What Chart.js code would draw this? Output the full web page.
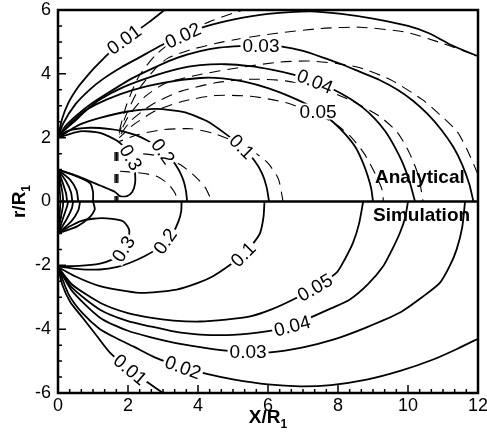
<!DOCTYPE html>
<html>
<head>
<meta charset="utf-8">
<script src="https://cdn.jsdelivr.net/npm/chart.js@4.4.0/dist/chart.umd.min.js"></script>
<style>
  html, body { margin: 0; padding: 0; background: #fff; }
  canvas { display: block; }
</style>
</head>
<body>
<canvas id="chart" width="487" height="437"></canvas>
<script>
// axis ticks
const xTicks = [0, 2, 4, 6, 8, 10, 12];
const yTicks = [-6, -4, -2, 0, 2, 4, 6];

// upper half, solid contours [x, r]
const up001 = [[0,2],[0.12,2.6],[0.3,3.1],[0.55,3.55],[0.77,3.85],[1.05,4.2],[1.3,4.48],[1.6,4.8],[1.9,5.07],[2.3,5.38],[2.6,5.62],[3.0,5.96],[3.05,6]];
const up002 = [[0,2],[0.15,2.45],[0.5,3.05],[0.9,3.5],[1.3,3.85],[1.8,4.2],[2.3,4.5],[3.0,4.92],[3.57,5.2],[4.2,5.48],[5.0,5.7],[6.0,5.88],[7.2,5.96],[8.1,5.88],[9.0,5.73],[10.0,5.5],[10.6,5.27],[11.2,4.92],[12,4.55]];
const up003 = [[0,2],[0.2,2.35],[0.53,2.7],[1.0,3.1],[1.5,3.45],[2.1,3.85],[2.8,4.22],[3.4,4.5],[4.06,4.71],[4.6,4.82],[5.2,4.87],[5.8,4.88],[6.4,4.85],[7.0,4.72],[7.6,4.5],[8.1,4.3],[8.63,4.06],[9.2,3.8],[9.7,3.5],[10.15,3.15],[10.55,2.75],[10.95,2.25],[11.3,1.7],[11.55,1.15],[11.75,0.55],[11.87,0]];
const up004 = [[0,2],[0.2,2.25],[0.43,2.47],[0.8,2.85],[1.2,3.2],[1.9,3.6],[2.63,3.9],[3.4,4.15],[4.06,4.27],[4.8,4.3],[5.49,4.24],[6.1,4.13],[6.7,3.98],[7.34,3.76],[7.87,3.51],[8.3,3.25],[8.7,2.95],[9.05,2.6],[9.35,2.2],[9.6,1.75],[9.85,1.2],[10.05,0.6],[10.2,0]];
const up005 = [[0,2],[0.25,2.33],[0.5,2.6],[0.82,2.88],[1.4,3.2],[2.15,3.5],[3.0,3.72],[4.06,3.87],[4.7,3.86],[5.29,3.76],[6.0,3.55],[6.6,3.3],[7.1,3.05],[7.5,2.8],[7.85,2.5],[8.2,2.12],[8.5,1.7],[8.7,1.25],[8.85,0.8],[8.95,0.4],[9.0,0]];
const up01 = [[0,2],[0.25,2.17],[0.6,2.4],[1.2,2.62],[2.0,2.82],[2.82,2.9],[3.6,2.8],[4.25,2.52],[4.75,2.15],[5.25,1.72],[5.6,1.3],[5.83,0.88],[5.96,0.45],[6.03,0]];
const up02 = [[0,2],[0.3,2.22],[0.91,2.31],[1.5,2.27],[1.86,2.2],[2.25,2.07],[2.54,1.92],[2.8,1.75],[3.0,1.57],[3.2,1.38],[3.36,1.15],[3.5,0.88],[3.6,0.6],[3.66,0.3],[3.69,0]];
const up03 = [[0,2],[0.63,2.2],[1.2,2.15],[1.69,1.9],[1.95,1.62],[2.08,1.38],[2.15,1.15],[2.2,0.9],[2.2,0.55],[2.12,0.3],[1.97,0.17],[1.77,0.17],[1.63,0.3],[1.2,0.5],[0.6,0.78],[0,1]];
const up04 = [[0,1],[0.5,0.8],[0.91,0.58],[1.0,0.3],[1.0,0]];
const up05 = [[0,1],[0.35,0.68],[0.53,0.35],[0.58,0]];
const up06 = [[0,1],[0.22,0.65],[0.37,0.3],[0.41,0]];
const up07 = [[0,1],[0.13,0.6],[0.23,0.25],[0.26,0]];
const up08 = [[0,1],[0.07,0.6],[0.13,0.25],[0.15,0]];
const up09 = [[0,1],[0.04,0.5],[0.07,0]];

// upper half, dashed contours
const dash001 = [[1.75,2.2],[1.95,3.0],[2.3,3.9],[2.8,4.6],[3.5,5.2],[4.3,5.62],[5.0,5.9],[5.3,6.0]];
const dash002 = [[1.75,2.15],[1.98,2.8],[2.3,3.5],[2.77,4.15],[3.15,4.5],[3.77,4.75],[4.5,4.95],[5.3,5.12],[6.25,5.27],[7.5,5.42],[8.63,5.46],[9.96,5.3],[11.0,4.95],[11.87,4.6],[12,4.53]];
const dash003 = [[1.75,2.1],[2.03,2.7],[2.5,3.3],[3.1,3.72],[4.06,3.98],[5.2,4.2],[6.34,4.37],[7.2,4.4],[8.0,4.32],[8.63,4.19],[9.49,3.82],[10.4,3.2],[10.9,2.73],[11.4,2.2],[11.7,1.6],[11.9,1.1],[12,0.85]];
const dash004 = [[1.75,2.05],[2.1,2.55],[2.7,3.05],[3.5,3.45],[4.5,3.72],[5.5,3.83],[6.5,3.78],[7.5,3.55],[8.4,3.15],[9.2,2.66],[9.7,2.16],[10.05,1.5],[10.3,0.8],[10.43,0]];
const dash005 = [[1.75,2.0],[2.15,2.4],[2.8,2.85],[3.6,3.15],[4.5,3.32],[5.5,3.3],[6.5,3.1],[7.3,2.78],[7.9,2.45],[8.35,2.05],[8.75,1.5],[9.05,0.9],[9.25,0.4],[9.3,0]];
const dash01 = [[1.75,1.88],[2.3,2.1],[3.0,2.25],[3.8,2.28],[4.4,2.15],[5.0,1.9],[5.6,1.55],[6.0,1.2],[6.3,0.7],[6.43,0]];
const dash02 = [[1.75,1.45],[2.3,1.5],[2.9,1.42],[3.5,1.15],[3.9,0.8],[4.2,0.45],[4.4,0]];
const dash03 = [[1.75,0.95],[2.3,0.9],[2.8,0.8],[3.15,0.55],[3.35,0.25],[3.4,0]];
const dashSrcA = [[1.63,1.55],[1.63,0]];
const dashSrcB = [[1.67,1.55],[1.67,0]];
const dashSrcC = [[1.71,1.55],[1.71,0]];

// lower half, solid contours
const low001 = [[0,-2.05],[0.12,-2.6],[0.35,-3.15],[0.71,-3.65],[1.1,-4.2],[1.49,-4.74],[2.06,-5.27],[2.58,-5.68],[3.0,-6.0]];
const low002 = [[0,-2.05],[0.3,-2.9],[0.7,-3.5],[1.2,-4.0],[1.7,-4.3],[2.15,-4.54],[2.8,-4.9],[3.57,-5.2],[4.25,-5.4],[5.0,-5.57],[6.0,-5.73],[6.91,-5.79],[7.8,-5.75],[8.82,-5.58],[9.8,-5.3],[10.72,-4.95],[11.4,-4.62],[12,-4.3]];
const low003 = [[0,-2.05],[0.4,-2.8],[1.2,-3.64],[2.0,-4.05],[2.63,-4.25],[3.3,-4.42],[4.06,-4.56],[4.8,-4.67],[5.43,-4.72],[6.06,-4.73],[7.0,-4.57],[7.86,-4.33],[8.8,-3.95],[9.77,-3.48],[10.4,-3.0],[10.91,-2.55],[11.2,-2.0],[11.39,-1.5],[11.55,-0.8],[11.63,0]];
const low004 = [[0,-2.05],[0.4,-2.7],[1.2,-3.39],[2.0,-3.75],[2.63,-3.91],[3.3,-4.07],[4.06,-4.17],[5.0,-4.18],[5.96,-4.07],[6.69,-3.9],[7.29,-3.6],[7.8,-3.35],[8.34,-3.07],[8.85,-2.6],[9.29,-2.03],[9.55,-1.5],[9.77,-0.98],[9.92,-0.5],[10.0,0]];
const low005 = [[0,-2.05],[0.4,-2.6],[1.2,-3.17],[2.0,-3.5],[2.63,-3.64],[3.3,-3.73],[4.06,-3.76],[4.8,-3.7],[5.49,-3.6],[6.1,-3.38],[6.72,-3.07],[7.34,-2.7],[7.96,-2.23],[8.2,-1.8],[8.43,-1.29],[8.6,-0.7],[8.72,0]];
const low01 = [[0,-2.05],[0.5,-2.35],[1.2,-2.65],[2.34,-2.86],[3.39,-2.76],[4.0,-2.55],[4.43,-2.34],[4.9,-2.0],[5.29,-1.66],[5.55,-1.35],[5.77,-1.0],[5.87,-0.5],[5.9,0]];
const low02 = [[0,-2.03],[0.6,-2.12],[1.2,-2.13],[1.7,-2.05],[2.06,-1.92],[2.5,-1.7],[2.8,-1.5],[3.06,-1.25],[3.3,-0.95],[3.45,-0.6],[3.52,-0.3],[3.53,0]];
const low03 = [[0,-1],[0.3,-0.8],[0.63,-0.62],[1.0,-0.54],[1.39,-0.53],[1.86,-0.62],[2.03,-0.88],[2.0,-1.2],[1.87,-1.49],[1.7,-1.7],[1.54,-1.82],[1.2,-1.95],[0.6,-2.02],[0,-2.03]];
const low04 = [[0,-1],[0.55,-0.78],[0.9,-0.5],[1.05,-0.25],[1.0,0]];
const low05 = [[0,-1],[0.38,-0.62],[0.58,-0.28],[0.63,0]];
const low06 = [[0,-1],[0.25,-0.55],[0.4,-0.2],[0.43,0]];
const low07 = [[0,-1],[0.15,-0.5],[0.26,-0.15],[0.29,0]];
const low08 = [[0,-1],[0.08,-0.5],[0.14,-0.15],[0.15,0]];
const low09 = [[0,-1],[0.04,-0.5],[0.07,0]];

// contour labels: text, x, r, angle (deg)
const contourLabels = [
  ['0.01', 1.89, 5.07, -36], ['0.02', 3.57, 5.2, -25], ['0.03', 5.8, 4.87, 0],
  ['0.04', 7.34, 3.76, 22], ['0.05', 7.43, 2.82, 0], ['0.1', 5.25, 1.72, 45],
  ['0.2', 3.0, 1.57, 55], ['0.3', 2.08, 1.38, 60],
  ['0.3', 1.87, -1.49, -58], ['0.2', 3.06, -1.25, -55], ['0.1', 5.29, -1.66, -45],
  ['0.05', 7.34, -2.7, -30], ['0.04', 6.69, -3.9, -15], ['0.03', 5.43, -4.72, 0],
  ['0.02', 3.57, -5.2, 20], ['0.01', 2.06, -5.27, 40]
];

const FONT = '"Liberation Sans", Arial, Helvetica, sans-serif';

const solidLines = [up001, up002, up003, up004, up005, up01, up02, up03, up04, up05, up06, up07, up08, up09,
  low001, low002, low003, low004, low005, low01, low02, low03, low04, low05, low06, low07, low08, low09];
const dashedLines = [dash001, dash002, dash003, dash004, dash005, dash01, dash02, dash03];
const srcLines = [dashSrcA, dashSrcB, dashSrcC];

function toPts(arr) { return arr.map(p => ({x: p[0], y: p[1]})); }

let datasets = [];
for (let line of solidLines) {
  datasets.push({data: toPts(line), showLine: true, pointRadius: 0, borderColor: '#000', borderWidth: 1.8, tension: 0.22});
}
dashedLines.forEach((line, i) => {
  // stagger dash phase so the converging ends hatch instead of blotting
  datasets.push({data: toPts(line), showLine: true, pointRadius: 0, borderColor: '#000', borderWidth: 1.1,
    borderDash: [11, 7], borderDashOffset: i * 5, tension: 0.22});
});
for (let line of srcLines) {
  datasets.push({data: toPts(line), showLine: true, pointRadius: 0, borderColor: '#000', borderWidth: 1.3, borderDash: [9, 13], tension: 0});
}

const decor = {
  id: 'decor',
  afterDatasetsDraw(chart) {
    const ctx = chart.ctx, xs = chart.scales.x, ys = chart.scales.y, a = chart.chartArea;
    ctx.save();

    // contour labels
    ctx.font = '19px ' + FONT;
    ctx.textAlign = 'center';
    ctx.textBaseline = 'middle';
    for (let lab of contourLabels) {
      let px = xs.getPixelForValue(lab[1]), py = ys.getPixelForValue(lab[2]);
      ctx.save();
      ctx.translate(px, py);
      ctx.rotate(lab[3] * Math.PI / 180);
      let w = ctx.measureText(lab[0]).width;
      ctx.fillStyle = '#fff';
      ctx.fillRect(-w / 2 - 2, -8, w + 4, 16);
      ctx.fillStyle = '#000';
      ctx.fillText(lab[0], 0, 1);
      ctx.restore();
    }

    // frame and zero line
    ctx.strokeStyle = '#000';
    ctx.lineWidth = 2.5;
    ctx.strokeRect(a.left, a.top, a.right - a.left, a.bottom - a.top);
    let y0 = ys.getPixelForValue(0);
    ctx.beginPath(); ctx.moveTo(a.left, y0); ctx.lineTo(a.right, y0); ctx.stroke();

    // inward ticks
    ctx.lineWidth = 1.5;
    ctx.beginPath();
    for (let i = 0; i <= 24; i++) {
      let v = -6 + i * 0.5, py = ys.getPixelForValue(v);
      let len = (i % 4 === 0) ? 8 : 4;
      ctx.moveTo(a.left, py); ctx.lineTo(a.left + len, py);
    }
    for (let i = 0; i <= 36; i++) {
      let v = i / 3, px = xs.getPixelForValue(v);
      let len = (i % 6 === 0) ? 8 : 4;
      ctx.moveTo(px, a.bottom); ctx.lineTo(px, a.bottom - len);
    }
    ctx.stroke();

    // region texts
    ctx.fillStyle = '#000';
    ctx.font = 'bold 19px ' + FONT;
    ctx.textAlign = 'left';
    ctx.textBaseline = 'alphabetic';
    ctx.fillText('Analytical', 375, 183);
    ctx.fillText('Simulation', 373, 221);

    // axis titles with subscript
    ctx.font = 'bold 19px ' + FONT;
    let wx = ctx.measureText('X/R').width;
    ctx.font = 'bold 12px ' + FONT;
    let w1 = ctx.measureText('1').width;
    let cx = (a.left + a.right) / 2 - (wx + w1) / 2;
    ctx.font = 'bold 19px ' + FONT;
    ctx.fillText('X/R', cx, 423);
    ctx.font = 'bold 12px ' + FONT;
    ctx.fillText('1', cx + wx, 428);

    ctx.save();
    ctx.translate(25, (a.top + a.bottom) / 2);
    ctx.rotate(-Math.PI / 2);
    ctx.font = 'bold 19px ' + FONT;
    let wr = ctx.measureText('r/R').width;
    ctx.fillText('r/R', -(wr + w1) / 2, 0);
    ctx.font = 'bold 12px ' + FONT;
    ctx.fillText('1', -(wr + w1) / 2 + wr, 5);
    ctx.restore();

    ctx.restore();
  }
};

new Chart(document.getElementById('chart'), {
  type: 'scatter',
  data: {datasets: datasets},
  options: {
    responsive: false,
    animation: false,
    devicePixelRatio: 1,
    layout: {padding: {top: 10, right: 9, left: 0, bottom: 0}},
    plugins: {legend: {display: false}, tooltip: {enabled: false}},
    scales: {
      x: {
        type: 'linear', min: 0, max: 12,
        afterBuildTicks: s => { s.ticks = xTicks.map(v => ({value: v})); },
        afterFit: s => { s.height = 44; s.paddingLeft = 0; s.paddingRight = 0; },
        grid: {display: false, drawTicks: false},
        border: {display: false},
        ticks: {padding: 2, color: '#000', maxRotation: 0, font: {family: FONT, size: 18}}
      },
      y: {
        type: 'linear', min: -6, max: 6,
        afterBuildTicks: s => { s.ticks = yTicks.map(v => ({value: v})); },
        afterFit: s => { s.width = 58; s.paddingTop = 0; s.paddingBottom = 0; },
        grid: {display: false, drawTicks: false},
        border: {display: false},
        ticks: {padding: 7, color: '#000', font: {family: FONT, size: 18}}
      }
    }
  },
  plugins: [decor]
});
</script>
</body>
</html>
